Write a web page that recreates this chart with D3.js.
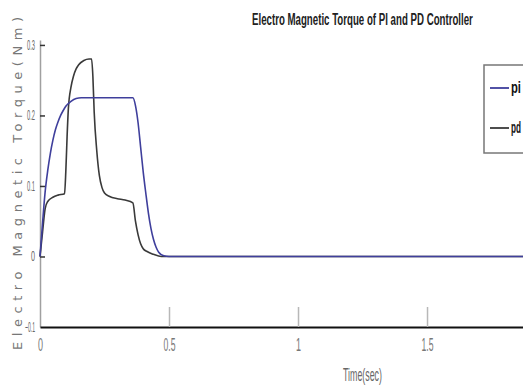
<!DOCTYPE html>
<html>
<head>
<meta charset="utf-8">
<script src="https://cdn.jsdelivr.net/npm/d3@7"></script>
<style>
  body { margin: 0; background: #fff; }
  svg { display: block; }
</style>
</head>
<body>
<svg id="chart" width="523" height="387"></svg>
<script>
// time (sec) and torque (Nm)
var piTime = [0, 0.01, 0.02, 0.03, 0.04, 0.05, 0.06, 0.07, 0.08, 0.09, 0.10, 0.12, 0.14, 0.16,
              0.36, 0.37, 0.38, 0.39, 0.40, 0.41, 0.42, 0.43, 0.44, 0.45, 0.46, 0.48, 0.50, 1.9];
var piTorque = [0, 0.048, 0.092, 0.122, 0.146, 0.165, 0.18, 0.191, 0.2, 0.207, 0.213, 0.22, 0.224, 0.225,
                0.225, 0.214, 0.19, 0.155, 0.12, 0.09, 0.062, 0.04, 0.024, 0.013, 0.006, 0.001, 0, 0];

var pdTime = [0, 0.01, 0.02, 0.03, 0.05, 0.07, 0.095, 0.10, 0.105, 0.11, 0.12, 0.13, 0.14, 0.15, 0.17, 0.19, 0.20,
              0.205, 0.21, 0.22, 0.23, 0.24, 0.25, 0.27, 0.30, 0.33, 0.36,
              0.37, 0.38, 0.39, 0.40, 0.415, 0.44, 0.47, 1.9];
var pdTorque = [0, 0.035, 0.068, 0.078, 0.084, 0.087, 0.089, 0.12, 0.17, 0.21, 0.24, 0.256, 0.266, 0.272, 0.278, 0.28, 0.28,
                0.255, 0.205, 0.15, 0.115, 0.098, 0.09, 0.085, 0.082, 0.08, 0.076,
                0.05, 0.031, 0.018, 0.011, 0.007, 0.003, 0, 0];

var xTicks = [0, 0.5, 1, 1.5];
var yTicks = [-0.1, 0, 0.1, 0.2, 0.3];
var seriesNames = ["pi", "pd"];
var seriesColors = ["#3f3f9c", "#3a3a3a"];

var svg = d3.select("#chart");

var x = d3.scaleLinear().domain([0, 1.872]).range([40, 523]);
var y = d3.scaleLinear().domain([-0.1, 0.307]).range([327, 40]);

// squeeze a text horizontally to a given width (the figure uses a very narrow font)
function narrow(g, w) {
  var t = g.select("text");
  var len = t.node().getComputedTextLength();
  t.attr("transform", "scale(" + (w / len) + ",1)");
}

// title
var title = svg.append("g").attr("transform", "translate(252,25)");
title.append("text")
    .attr("font-family", "Liberation Sans, Arial, sans-serif")
    .attr("font-size", 17)
    .attr("font-weight", "bold")
    .attr("fill", "#222")
    .text("Electro Magnetic Torque of PI and PD Controller");
narrow(title, 221);

// y axis
var yAxis = svg.append("g")
    .attr("transform", "translate(40,0)")
    .call(d3.axisLeft(y).tickValues(yTicks).tickSizeInner(-5).tickSizeOuter(0).tickPadding(5)
      .tickFormat(function(d) { return d === 0 ? "0" : d3.format(".1f")(d); }));
yAxis.select(".domain").attr("stroke", "#a0a0a0").attr("stroke-width", 1.5);
yAxis.selectAll(".tick line").attr("stroke", "#333").attr("stroke-width", 1.5)
    .attr("display", function(d) { return d < 0 ? "none" : null; });
yAxis.selectAll(".tick text")
    .attr("font-family", "Liberation Sans, Arial, sans-serif")
    .attr("font-size", 14)
    .attr("fill", "#666")
    .attr("textLength", function(d) { return d < 0 ? 10 : (d === 0 ? 4 : 8); })
    .attr("lengthAdjust", "spacingAndGlyphs");

// x axis, ticks point up into the plot
var xAxis = svg.append("g")
    .attr("transform", "translate(0,327)")
    .call(d3.axisBottom(x).tickValues(xTicks).tickSizeInner(-20).tickSizeOuter(0).tickPadding(11)
      .tickFormat(function(d) { return d; }));
xAxis.select(".domain").attr("stroke", "#111").attr("stroke-width", 2.2);
xAxis.selectAll(".tick line").attr("stroke", "#b8b8b8").attr("stroke-width", 1.5)
    .attr("display", function(d) { return d === 0 ? "none" : null; });
xAxis.selectAll(".tick text")
    .attr("font-family", "Liberation Sans, Arial, sans-serif")
    .attr("font-size", 18)
    .attr("fill", "#777")
    .attr("textLength", function(d) { return String(d).length > 1 ? 12 : 5; })
    .attr("lengthAdjust", "spacingAndGlyphs");

// axis titles
var xTitle = svg.append("g").attr("transform", "translate(343,381)");
xTitle.append("text")
    .attr("font-family", "Liberation Sans, Arial, sans-serif")
    .attr("font-size", 19)
    .attr("fill", "#666")
    .text("Time(sec)");
narrow(xTitle, 39);

svg.append("text")
    .attr("transform", "translate(22,350) rotate(-90)")
    .attr("font-family", "DejaVu Sans, sans-serif")
    .attr("font-size", 13)
    .attr("fill", "#777")
    .attr("textLength", 333)
    .attr("lengthAdjust", "spacing")
    .text("Electro Magnetic Torque(Nm)");

// lines
var line = d3.line()
    .x(function(d) { return x(d[0]); })
    .y(function(d) { return y(d[1]); })
    .curve(d3.curveMonotoneX);

var pdData = d3.zip(pdTime, pdTorque);
var piData = d3.zip(piTime, piTorque);

svg.append("path")
    .datum(pdData)
    .attr("d", line)
    .attr("fill", "none")
    .attr("stroke", seriesColors[1])
    .attr("stroke-width", 1.6);

svg.append("path")
    .datum(piData)
    .attr("d", line)
    .attr("fill", "none")
    .attr("stroke", seriesColors[0])
    .attr("stroke-width", 1.6);

// legend (box runs past the right edge as in the figure)
var legend = svg.append("g").attr("transform", "translate(484,65)");
legend.append("rect")
    .attr("width", 60).attr("height", 88)
    .attr("fill", "#fff")
    .attr("stroke", "#777")
    .attr("stroke-width", 1.5);

var item = legend.selectAll(".item")
    .data(seriesNames)
    .enter().append("g")
      .attr("transform", function(d, i) { return "translate(0," + (23 + i * 40) + ")"; });

item.append("line")
    .attr("x1", 6).attr("x2", 25)
    .attr("stroke", function(d, i) { return seriesColors[i]; })
    .attr("stroke-width", 1.8);

item.append("g")
    .attr("transform", "translate(27,5)")
    .each(function(d) {
      var g = d3.select(this);
      g.append("text")
        .attr("font-family", "Liberation Sans, Arial, sans-serif")
        .attr("font-size", 17)
        .attr("font-weight", "bold")
        .attr("fill", "#111")
        .text(d);
      narrow(g, 10);
    });
</script>
</body>
</html>
